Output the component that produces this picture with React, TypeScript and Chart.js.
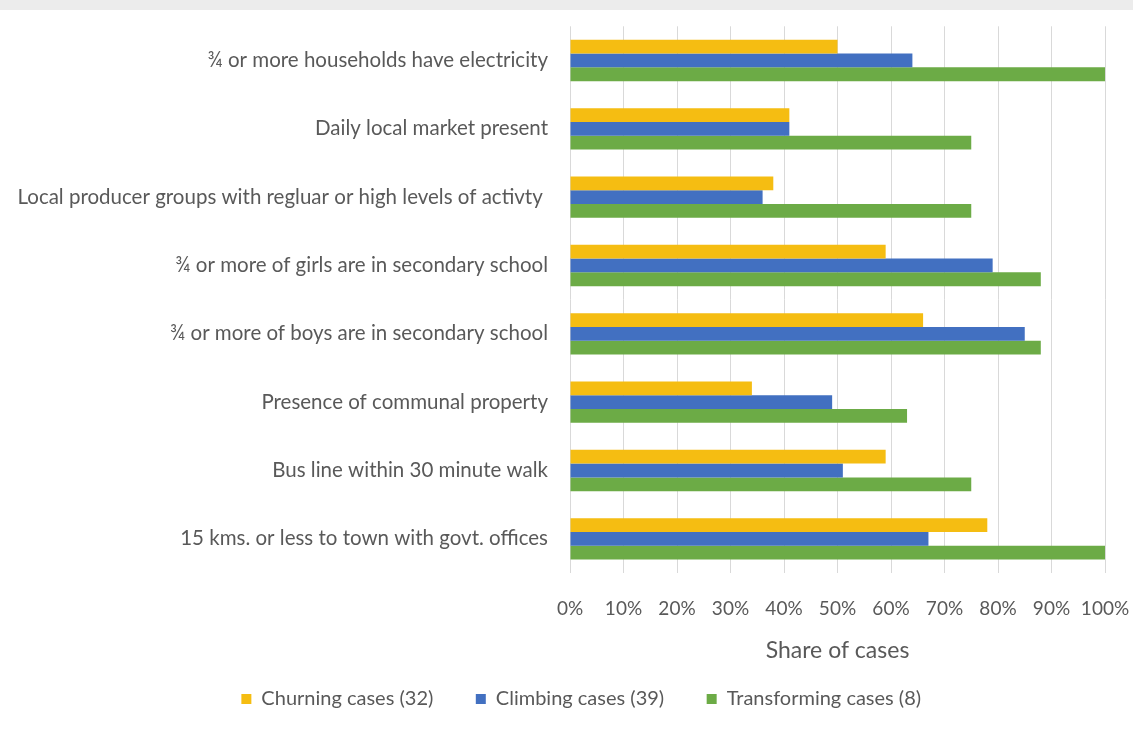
import React, { useEffect, useRef } from "react";
import { Chart, registerables } from "chart.js";

Chart.register(...registerables);

const categories = [
  "¾ or more households have electricity",
  "Daily local market present",
  "Local producer groups with regluar or high levels of activty ",
  "¾ or more of girls are in secondary school",
  "¾ or more of boys are in secondary school",
  "Presence of communal property",
  "Bus line within 30 minute walk",
  "15 kms. or less to town with govt. offices",
];

const churning = [50, 41, 38, 59, 66, 34, 59, 78];
const climbing = [64, 41, 36, 79, 85, 49, 51, 67];
const transforming = [100, 75, 75, 88, 88, 63, 75, 100];

const seriesNames = ["Churning cases (32)", "Climbing cases (39)", "Transforming cases (8)"];
const seriesColors = ["#F5BD12", "#4270C1", "#6CAB46"];

const xTicks = [0, 10, 20, 30, 40, 50, 60, 70, 80, 90, 100];
const axisTitle = "Share of cases";

const FONT = "Lato, 'Open Sans', sans-serif";
const TEXT = "#595959";

const legendShift = {
  id: "legendShift",
  afterLayout(c: any) {
    if (c.legend) {
      c.legend.left += 39;
      c.legend.right += 39;
    }
  },
};

export default function App() {
  const ref = useRef<HTMLCanvasElement | null>(null);
  useEffect(() => {
    document.body.style.margin = "0";
    const ctx = ref.current!;
    const defaultGen = (Chart as any).defaults.plugins.legend.labels.generateLabels;
    const chart = new Chart(ctx, {
      type: "bar",
      data: {
        labels: categories,
        datasets: [churning, climbing, transforming].map((d, i) => ({
          label: seriesNames[i],
          data: d,
          backgroundColor: seriesColors[i],
          borderWidth: 0,
          barPercentage: 1,
          categoryPercentage: 0.605,
        })),
      },
      plugins: [legendShift],
      options: {
        indexAxis: "y",
        animation: false,
        responsive: false,
        maintainAspectRatio: false,
        layout: { padding: { top: 24, right: 28, left: 0, bottom: 24 } },
        plugins: {
          tooltip: { enabled: false },
          legend: {
            position: "bottom",
            labels: {
              boxWidth: 10,
              boxHeight: 10,
              padding: 22,
              color: TEXT,
              font: { family: FONT, size: 20 },
              generateLabels: (c: any) =>
                defaultGen(c).map((l: any) => ({ ...l, text: l.text + "    " })),
            },
          },
        },
        scales: {
          x: {
            min: 0,
            max: 100,
            afterBuildTicks: (s: any) => {
              s.ticks = xTicks.map((v) => ({ value: v }));
            },
            afterFit: (s: any) => {
              s.paddingRight = 0;
              s.height = 94;
            },
            grid: {
              color: "#d9d9d9",
              lineWidth: 1,
              drawTicks: false,
            },
            border: { display: false },
            ticks: {
              padding: 24,
              color: TEXT,
              font: { family: FONT, size: 19 },
              maxRotation: 0,
              autoSkip: false,
              callback: (v: any) => v + "%",
            },
            title: {
              display: true,
              text: axisTitle,
              color: TEXT,
              font: { family: FONT, size: 23 },
              padding: { top: 0, bottom: 3 },
            },
          },
          y: {
            afterFit: (s: any) => {
              s.width = 570;
            },
            grid: { display: false },
            border: { display: false },
            ticks: {
              padding: 14,
              color: TEXT,
              font: { family: FONT, size: 20.5 },
              autoSkip: false,
            },
          },
        },
      },
    });
    return () => chart.destroy();
  }, []);
  return (
    <div style={{ position: "relative", width: 1133, height: 743, background: "#ffffff" }}>
      <div style={{ position: "absolute", left: 0, top: 0, width: 1133, height: 10, background: "#ececec" }} />
      <canvas ref={ref} width={1133} height={743} style={{ position: "absolute", left: 0, top: 0 }} />
    </div>
  );
}
